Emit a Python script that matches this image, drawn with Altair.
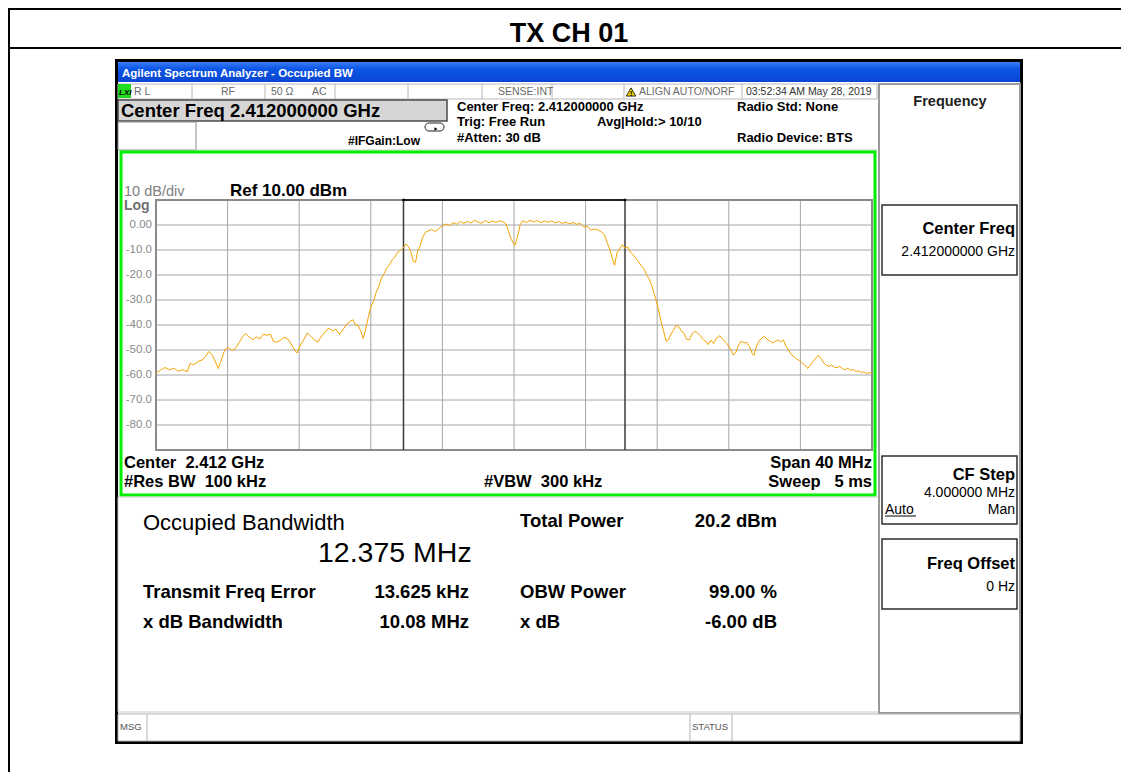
import altair as alt
import pandas as pd

# ---------------- data ----------------
trace_freq_mhz = [
    -20.00, -19.75, -19.50, -19.25, -19.00, -18.75, -18.50, -18.25, -18.10, -17.90,
    -17.65, -17.40, -17.20, -17.05, -16.85, -16.65, -16.52, -16.35, -16.15, -15.95,
    -15.75, -15.55, -15.35, -15.15, -15.00, -14.80, -14.60, -14.40, -14.20, -14.00,
    -13.80, -13.60, -13.45, -13.25, -13.05, -12.85, -12.65, -12.45, -12.25, -12.12,
    -11.95, -11.75, -11.55, -11.35, -11.15, -10.95, -10.75, -10.55, -10.35, -10.15,
    -9.95, -9.75, -9.55, -9.35, -9.15, -9.00, -8.85, -8.70, -8.55, -8.42,
    -8.30, -8.15, -8.00, -7.85, -7.70, -7.55, -7.40, -7.25, -7.10, -6.95,
    -6.80, -6.65, -6.50, -6.35, -6.20, -6.05, -5.90, -5.75, -5.62, -5.50,
    -5.38, -5.25, -5.10, -4.95, -4.80, -4.60, -4.40, -4.20, -4.00, -3.80,
    -3.60, -3.40, -3.20, -3.00, -2.80, -2.60, -2.40, -2.20, -2.00, -1.80,
    -1.60, -1.40, -1.20, -1.00, -0.80, -0.60, -0.45, -0.30, -0.15, 0.05,
    0.20, 0.35, 0.50, 0.70, 0.90, 1.10, 1.30, 1.50, 1.70, 1.90,
    2.10, 2.30, 2.50, 2.70, 2.90, 3.10, 3.30, 3.50, 3.70, 3.90,
    4.10, 4.30, 4.50, 4.70, 4.90, 5.05, 5.20, 5.35, 5.50, 5.62,
    5.75, 5.90, 6.05, 6.20, 6.35, 6.50, 6.65, 6.80, 6.95, 7.10,
    7.25, 7.40, 7.55, 7.70, 7.85, 8.00, 8.10, 8.20, 8.35, 8.50,
    8.60, 8.75, 8.90, 9.05, 9.20, 9.35, 9.50, 9.65, 9.80, 9.95,
    10.10, 10.25, 10.40, 10.55, 10.70, 10.85, 11.00, 11.15, 11.30, 11.50,
    11.70, 11.90, 12.10, 12.25, 12.40, 12.55, 12.70, 12.85, 13.00, 13.15,
    13.30, 13.40, 13.55, 13.70, 13.85, 14.00, 14.15, 14.30, 14.45, 14.60,
    14.75, 14.90, 15.05, 15.20, 15.35, 15.50, 15.65, 15.80, 15.95, 16.10,
    16.25, 16.40, 16.55, 16.70, 16.85, 17.00, 17.15, 17.30, 17.45, 17.60,
    17.75, 17.90, 18.05, 18.20, 18.35, 18.50, 18.65, 18.80, 18.95, 19.10,
    19.25, 19.40, 19.55, 19.70, 19.85, 20.00,
]
trace_dbm = [
    -59.2, -58.1, -57.0, -57.9, -57.3, -58.5, -57.8, -58.7, -55.4, -55.9,
    -54.6, -53.9, -52.3, -50.6, -52.1, -55.2, -57.4, -54.0, -49.8, -49.0,
    -50.2, -49.3, -46.9, -44.6, -43.4, -44.7, -45.9, -44.8, -45.6, -43.6,
    -44.1, -43.7, -46.4, -46.9, -46.1, -44.9, -45.5, -47.6, -50.0, -51.2,
    -48.3, -45.9, -43.2, -44.5, -46.0, -46.8, -44.4, -42.8, -41.2, -42.4,
    -41.7, -43.8, -41.9, -39.6, -38.6, -37.9, -40.1, -40.3, -42.6, -45.4,
    -42.0, -37.2, -32.8, -30.6, -26.9, -24.6, -21.2, -19.4, -17.1, -15.8,
    -13.9, -12.8, -10.9, -10.2, -9.4, -7.6, -8.6, -11.0, -14.6, -14.9,
    -10.4, -8.5, -4.9, -2.9, -2.4, -1.8, -2.6, -1.5, -0.3, 0.4,
    -0.2, 0.9, 0.3, 1.4, 0.6, 1.5, 0.8, 1.9, 1.1, 0.7,
    1.8, 0.9, 1.6, 1.0, 1.7, 1.2, 0.4, -2.6, -5.8, -8.1,
    -4.6, 0.2, 1.7, 1.0, 1.9, 1.2, 1.8, 0.9, 1.6, 1.1,
    1.7, 0.8, 1.4, 0.6, 1.2, 0.4, 1.0, 0.3, 0.6, -0.8,
    -0.5, -2.1, -1.6, -2.0, -2.8, -3.9, -6.9, -9.8, -13.5, -16.1,
    -11.2, -9.6, -7.9, -9.3, -8.7, -10.8, -11.9, -13.2, -14.6, -16.3,
    -17.4, -19.8, -21.6, -24.3, -27.9, -31.6, -34.8, -38.2, -42.1, -46.6,
    -46.1, -44.0, -42.2, -40.1, -40.6, -42.4, -43.3, -45.8, -45.9, -43.5,
    -42.6, -43.1, -44.2, -45.7, -46.4, -47.8, -46.1, -47.4, -45.3, -44.3,
    -46.0, -47.5, -49.6, -52.1, -50.8, -48.0, -46.4, -47.2, -46.9, -48.6,
    -51.3, -52.2, -48.4, -46.2, -45.1, -44.6, -45.7, -46.4, -47.2, -46.5,
    -45.9, -46.8, -46.0, -48.6, -50.1, -51.9, -52.7, -53.6, -54.3, -55.2,
    -56.0, -57.4, -56.1, -54.6, -53.3, -52.1, -53.4, -55.1, -56.2, -56.5,
    -56.0, -56.9, -57.1, -56.6, -57.5, -57.9, -57.3, -58.2, -57.8, -58.6,
    -58.3, -59.0, -58.7, -59.4, -59.0, -59.3,
]
grid_freq_mhz = [-16, -12, -8, -4, 0, 4, 8, 12, 16]
grid_dbm = [0, -10, -20, -30, -40, -50, -60, -70, -80]
grid_dbm_labels = ["0.00", "-10.0", "-20.0", "-30.0", "-40.0", "-50.0", "-60.0", "-70.0", "-80.0"]
freq_span_mhz = [-20, 20]
level_span_dbm = [-90, 10]
obw_mhz = 12.375
freq_error_khz = 13.625

# ---------------- layout helpers ----------------
W, H = 1113, 764
SANS = "Liberation Sans, Arial, sans-serif"


def px(X):
    return X - 8


def py(Y):
    return Y - 8


one = pd.DataFrame({"k": [0]})
layers = []


def rect(x1, y1, x2, y2, fill=None, stroke=None, sw=1, radius=0):
    kw = {"strokeWidth": sw}
    if fill is not None:
        kw["fill"] = fill
    else:
        kw["fillOpacity"] = 0
    if stroke is not None:
        kw["stroke"] = stroke
    if radius:
        kw["cornerRadius"] = radius
    layers.append(
        alt.Chart(one).mark_rect(**kw).encode(
            x=alt.value(px(x1)), x2=alt.value(px(x2)),
            y=alt.value(py(y1)), y2=alt.value(py(y2)))
    )


def line(x1, y1, x2, y2, color="#a0a0a0", w=1):
    layers.append(
        alt.Chart(one).mark_rule(color=color, strokeWidth=w).encode(
            x=alt.value(px(x1)), x2=alt.value(px(x2)),
            y=alt.value(py(y1)), y2=alt.value(py(y2)))
    )


def text(t, X, Y, size=12, weight="bold", align="left", color="black",
         font=SANS, baseline="alphabetic", style="normal"):
    layers.append(
        alt.Chart(one).mark_text(text=t, font=font, fontSize=size, fontWeight=weight,
                                 align=align, baseline=baseline, color=color,
                                 fontStyle=style).encode(
            x=alt.value(px(X)), y=alt.value(py(Y)))
    )


NB = "\u00a0"

# ---------------- page frame ----------------
rect(8, 8, 1121, 10, fill="black")
rect(8, 47, 1121, 49, fill="black")
rect(8, 8, 10, 772, fill="black")
text("TX CH 01", 569, 42, size=27, weight="bold", align="center")

# ---------------- analyzer window ----------------
rect(115, 59, 1023, 744, fill="black")
rect(118, 62, 1020, 741, fill="white")
blue = alt.Gradient(gradient="linear", x1=0, y1=0, x2=0, y2=1,
                    stops=[alt.GradientStop(color="#3a7cf4", offset=0),
                           alt.GradientStop(color="#0c55e6", offset=0.35),
                           alt.GradientStop(color="#0846d2", offset=1)])
rect(118, 62, 1020, 82, fill=blue)
text("Agilent Spectrum Analyzer - Occupied BW", 122, 77, size=11.5, weight="bold", color="white")

# status row
rect(118, 84, 877, 99, fill="white", stroke="#b8b8b8")
for sx in [192, 265, 335, 408, 482, 552, 624, 742]:
    line(sx, 84, sx, 99, color="#b8b8b8")
rect(118, 84, 131, 98, fill="#1fdc1f")
text("LXI", 119, 95, size=8, weight="bold", style="italic")
for t, X in [("R L", 134), ("RF", 221), ("50 \u03a9", 271), ("AC", 312), ("SENSE:INT", 498),
             ("ALIGN AUTO/NORF", 639)]:
    text(t, X, 95, size=10.5, weight="normal", color="#6a6a6a")
text("03:52:34 AM May 28, 2019", 746, 95, size=10.5, weight="normal", color="#333333")
layers.append(
    alt.Chart(one).mark_point(shape="triangle-up", filled=True, fill="#f2cf00", stroke="black",
                              strokeWidth=0.8, size=90, opacity=1).encode(
        x=alt.value(px(631)), y=alt.value(py(92)))
)
text("!", 631, 96, size=8, weight="bold", align="center")

# header block
rect(118, 100, 447, 121, fill="#d6d6d6", stroke="#4a4a4a", sw=1.5)
text("Center Freq 2.412000000 GHz", 121, 117, size=18.5, weight="bold")
rect(118, 122, 196, 150, fill="white", stroke="#8c8c8c")
rect(425, 123, 444, 131, fill="white", stroke="#222222", radius=4)
layers.append(
    alt.Chart(one).mark_point(shape="triangle-right", filled=True, fill="black", size=14,
                              opacity=1).encode(x=alt.value(px(436)), y=alt.value(py(129)))
)
text("#IFGain:Low", 348, 145, size=12, weight="bold")
text("Center Freq: 2.412000000 GHz", 457, 111, size=13)
text("Trig: Free Run", 457, 126, size=13)
text("#Atten: 30 dB", 457, 142, size=13)
text("Avg|Hold:>" + NB + "10/10", 597, 126, size=13)
text("Radio Std: None", 737, 111, size=13)
text("Radio Device: BTS", 737, 142, size=13)
line(118, 150, 877, 150, color="#c8c8c8")

# ---------------- graph area ----------------
rect(121, 152, 875, 495, fill="white", stroke="#00ee00", sw=3)
text("10 dB/div", 124, 196, size=14.5, weight="normal", color="#808080")
text("Log", 124, 210, size=14, weight="bold", color="#707070")
text("Ref 10.00 dBm", 230, 196, size=17, weight="bold")

XS = alt.Scale(domain=freq_span_mhz, range=[px(156), px(872)], nice=False, zero=False)
YS = alt.Scale(domain=level_span_dbm, range=[py(450), py(200)], nice=False, zero=False)

vgrid = pd.DataFrame({"f": grid_freq_mhz})
hgrid = pd.DataFrame({"db": grid_dbm, "lab": grid_dbm_labels})

layers.append(
    alt.Chart(vgrid).mark_rule(color="#a6a6a6", strokeWidth=1).encode(
        x=alt.X("f:Q", scale=XS, axis=None),
        y=alt.value(py(200)), y2=alt.value(py(450)))
)
layers.append(
    alt.Chart(hgrid).mark_rule(color="#a6a6a6", strokeWidth=1).encode(
        y=alt.Y("db:Q", scale=YS, axis=None),
        x=alt.value(px(156)), x2=alt.value(px(872)))
)
layers.append(
    alt.Chart(hgrid).mark_text(font=SANS, fontSize=11.5, align="right", baseline="middle",
                               color="#8a8a8a").encode(
        y=alt.Y("db:Q", scale=YS, axis=None), x=alt.value(px(152)), text="lab:N")
)
rect(156, 200, 872, 450, stroke="#8a8a8a", sw=2)

# occupied bandwidth markers
ctr = freq_error_khz / 1000.0
obw = pd.DataFrame({"f": [ctr - obw_mhz / 2, ctr + obw_mhz / 2]})
layers.append(
    alt.Chart(obw).mark_rule(color="#3a3a3a", strokeWidth=1.5).encode(
        x=alt.X("f:Q", scale=XS, axis=None),
        y=alt.value(py(200)), y2=alt.value(py(450)))
)
bracket = pd.DataFrame({"l": [ctr - obw_mhz / 2], "r": [ctr + obw_mhz / 2]})
layers.append(
    alt.Chart(bracket).mark_rule(color="black", strokeWidth=1.5).encode(
        x=alt.X("l:Q", scale=XS, axis=None), x2="r:Q", y=alt.value(py(200)))
)
layers.append(
    alt.Chart(obw).mark_point(shape="square", filled=True, color="black", size=6, opacity=1).encode(
        x=alt.X("f:Q", scale=XS, axis=None), y=alt.value(py(200)))
)

trace = pd.DataFrame({"f": trace_freq_mhz, "db": trace_dbm})
layers.append(
    alt.Chart(trace).mark_line(color="#f5a300", strokeWidth=1, interpolate="linear").encode(
        x=alt.X("f:Q", scale=XS, axis=None),
        y=alt.Y("db:Q", scale=YS, axis=None))
)

text("Center" + NB + NB + "2.412 GHz", 124, 468, size=16.5)
text("#Res BW" + NB + NB + "100 kHz", 124, 487, size=16.5)
text("#VBW" + NB + NB + "300 kHz", 484, 487, size=16.5)
text("Span 40 MHz", 872, 468, size=16.5, align="right")
text("Sweep" + NB + NB + " 5 ms", 872, 487, size=16.5, align="right")

# ---------------- measurement results ----------------
rect(118, 497, 880, 712, fill="white", stroke="#c8c8c8")
text("Occupied Bandwidth", 143, 530, size=22, weight="normal")
text("12.375 MHz", 318, 562, size=28.5, weight="normal")
text("Total Power", 520, 527, size=18.5)
text("20.2 dBm", 777, 527, size=18.5, align="right")
text("Transmit Freq Error", 143, 598, size=18.5)
text("13.625 kHz", 469, 598, size=18.5, align="right")
text("OBW Power", 520, 598, size=18.5)
text("99.00 %", 777, 598, size=18.5, align="right")
text("x dB Bandwidth", 143, 628, size=18.5)
text("10.08 MHz", 469, 628, size=18.5, align="right")
text("x dB", 520, 628, size=18.5)
text("-6.00 dB", 777, 628, size=18.5, align="right")

# ---------------- soft-key panel ----------------
rect(879, 84, 1020, 713, fill="white", stroke="#9a9a9a", sw=2)
text("Frequency", 950, 106, size=14.5, weight="bold", align="center", color="#222222")
for (y1, y2) in [(205, 275), (456, 524), (539, 609)]:
    rect(882, y1, 1017, y2, fill="white", stroke="#2e2e2e", sw=1.5)
text("Center Freq", 1015, 234, size=16.5, align="right")
text("2.412000000 GHz", 1015, 256, size=14, weight="normal", align="right")
text("CF Step", 1015, 480, size=16.5, align="right")
text("4.000000 MHz", 1015, 497, size=14, weight="normal", align="right")
text("Auto", 885, 514, size=14, weight="normal")
line(885, 516, 916, 516, color="black", w=1)
text("Man", 1015, 514, size=14, weight="normal", align="right")
text("Freq Offset", 1015, 569, size=16.5, align="right")
text("0 Hz", 1015, 591, size=14, weight="normal", align="right")

# ---------------- message bar ----------------
rect(118, 714, 1020, 741, fill="white", stroke="#b4b4b4")
for sx in [147, 690, 732]:
    line(sx, 714, sx, 741, color="#b4b4b4")
text("MSG", 120, 730, size=9.5, weight="normal", color="#555555")
text("STATUS", 692, 730, size=9.5, weight="normal", color="#555555")

chart = alt.layer(*layers).properties(
    width=W, height=H, padding=0, autosize=alt.AutoSizeParams(type="none")
).configure_view(stroke=None).configure(background="white")

chart.save("out.html", embed_options={"renderer": "svg", "actions": False})
